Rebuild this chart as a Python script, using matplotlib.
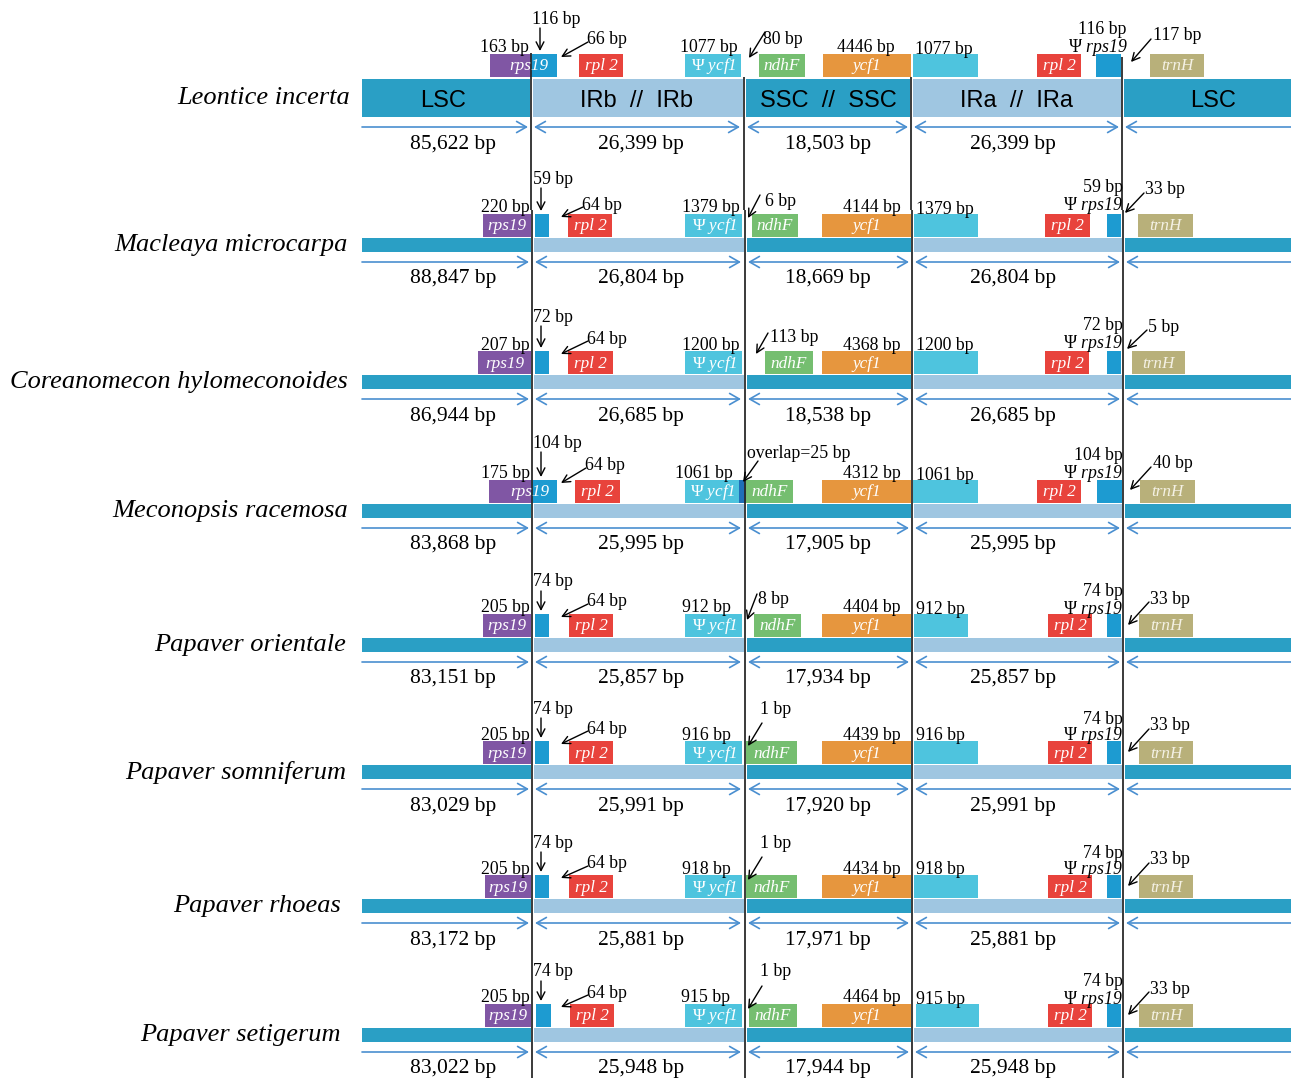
import matplotlib
matplotlib.use("Agg")
import matplotlib.pyplot as plt
from matplotlib.patches import Rectangle

plt.rcParams['font.family'] = ['Liberation Serif', 'DejaVu Serif']
plt.rcParams['mathtext.fontset'] = 'custom'
plt.rcParams['mathtext.rm'] = 'Liberation Serif'
plt.rcParams['mathtext.it'] = 'Liberation Serif:italic'
plt.rcParams['mathtext.bf'] = 'Liberation Serif:bold'

# ---------------- data ----------------
species = ["Leontice incerta", "Macleaya microcarpa", "Coreanomecon hylomeconoides",
           "Meconopsis racemosa", "Papaver orientale", "Papaver somniferum",
           "Papaver rhoeas", "Papaver setigerum"]
lsc_len = [85622, 88847, 86944, 83868, 83151, 83029, 83172, 83022]
irb_len = [26399, 26804, 26685, 25995, 25857, 25991, 25881, 25948]
ssc_len = [18503, 18669, 18538, 17905, 17934, 17920, 17971, 17944]
ira_len = [26399, 26804, 26685, 25995, 25857, 25991, 25881, 25948]

rps19_in_lsc = [163, 220, 207, 175, 205, 205, 205, 205]
rps19_in_irb = [116, 59, 72, 104, 74, 74, 74, 74]
rpl2_gap = [66, 64, 64, 64, 64, 64, 64, 64]
ycf1_pseudo = [1077, 1379, 1200, 1061, 912, 916, 918, 915]
ndhf_gap = [80, 6, 113, -25, 8, 1, 1, 1]          # negative = overlap
ycf1_in_ssc = [4446, 4144, 4368, 4312, 4404, 4439, 4434, 4464]
ycf1_in_ira = [1077, 1379, 1200, 1061, 912, 916, 918, 915]
rps19_pseudo = [116, 59, 72, 104, 74, 74, 74, 74]
trnh_gap = [117, 33, 5, 40, 33, 33, 33, 33]

# ---------------- styles ----------------
C_SC = "#2a9fc5"     # single-copy regions
C_IR = "#9fc6e1"     # inverted repeats
C_RPS = "#8056a4"
C_RPSB = "#1d9bd1"
C_RPL = "#e8433c"
C_YCF_P = "#4ec4de"
C_NDHF = "#75be70"
C_YCF = "#e6963e"
C_TRNH = "#b8b07a"
C_OVL = "#1f6fb8"
C_ARR = "#4a8fd0"
C_LINE = "#2b2b2b"

FS_SPEC = 19
FS_LEN = 15.5
FS_SMALL = 12.8
FS_GENE = 12.3

BAR_X0 = 362
BAR_X1 = 1291
GENE_H = 23

# ---------------- layout (schematic positions) ----------------
bar_top = [79, 238, 375, 504, 638, 765, 899, 1028]
bar_h = [38, 14, 14, 14, 14, 14, 14, 14]
spec_x = [350, 348, 348, 348, 346, 346, 341, 341]

base_boxes = dict(rps19L=(483, 531), rps19R=(535, 549), rpl2=(569, 613),
                  pycf1=(685, 742), ndhF=(746, 797), ycf1=(822, 911),
                  ycf1a=(914, 978), rpl2a=(1048, 1092), prps19=(1107, 1121),
                  trnH=(1139, 1193))
box_override = [
    dict(rps19L=(490, 531), rps19R=(531, 557), rpl2=(579, 623), pycf1=(685, 741),
         ndhF=(759, 805), ycf1=(823, 911), ycf1a=(913, 978), rpl2a=(1037, 1081),
         prps19=(1096, 1121), trnH=(1150, 1204)),
    dict(rpl2=(568, 612), ndhF=(752, 798), rpl2a=(1045, 1090), trnH=(1138, 1193)),
    dict(rps19L=(478, 531), rpl2=(568, 613), ndhF=(765, 813), rpl2a=(1045, 1089),
         trnH=(1132, 1185)),
    dict(rps19L=(489, 531), rps19R=(531, 557), rpl2=(575, 620), pycf1=(685, 739),
         ndhF=(746, 793), ycf1a=(913, 978), rpl2a=(1037, 1081), prps19=(1097, 1122),
         trnH=(1140, 1195)),
    dict(ndhF=(754, 801), ycf1a=(914, 968)),
    dict(),
    dict(rps19L=(485, 531)),
    dict(rps19L=(485, 531), rps19R=(536, 551), rpl2=(570, 614), ndhF=(749, 797),
         ycf1a=(916, 979)),
]
straddle = [True, False, False, True, False, False, False, False]
junctions = [(531, 744, 911, 1122)] + [(532, 745, 912, 1123)] * 7

# label offsets relative to the gene-box top
irb_lab_dy = [-37, -37, -36, -39, -34, -34, -34, -34]
rpl2_lab = [(587, -16), (582, -11), (587, -14), (585, -16),
            (587, -14), (587, -14), (587, -13), (587, -13)]
ndhf_lab = [  # label x, label dy, arrow start x, dy, arrow end x, dy
    (763, -16, 765, -22, 749, 4),
    (765, -15, 760, -19, 748, 4),
    (770, -16, 768, -18, 756, 3),
    (747, -28, 758, -19, 743, 2),
    (758, -16, 757, -20, 747, 6),
    (760, -34, 762, -18, 748, 5),
    (760, -34, 762, -18, 748, 5),
    (760, -34, 762, -18, 748, 5),
]
trnh_lab = [
    (1153, -21, 1151, -15, 1131, 8),
    (1145, -26, 1144, -21, 1125, -1),
    (1148, -26, 1147, -21, 1127, -2),
    (1153, -18, 1151, -13, 1130, 10),
    (1150, -17, 1149, -12, 1128, 11),
    (1150, -17, 1149, -12, 1128, 11),
    (1150, -17, 1149, -12, 1128, 11),
    (1150, -17, 1149, -12, 1128, 11),
]
prps_dy = [(-26, -9), (-28, -11), (-28, -10), (-26, -9),
           (-24, -7), (-24, -7), (-24, -7), (-24, -7)]
pycf_lab_x = [709, 711, 711, 704, 706, 706, 706, 706]
ycf_lab_x = [895, 901, 901, 901, 901, 901, 901, 901]
len_lab_x = (453, 641, 828, 1013)

# ---------------- drawing ----------------
fig = plt.figure(figsize=(12.91, 10.78), dpi=100)
ax = fig.add_axes([0, 0, 1, 1])
ax.set_xlim(0, 1291)
ax.set_ylim(1078, 0)
ax.axis('off')


def box(x0, x1, y, h, color, z=2):
    ax.add_patch(Rectangle((x0, y), x1 - x0, h, facecolor=color, edgecolor='none', zorder=z))


def small_arrow(x0, y0, x1, y1):
    ax.annotate('', xy=(x1, y1), xytext=(x0, y0),
                arrowprops=dict(arrowstyle='->, head_length=0.55, head_width=0.28',
                                color='black', lw=1.0, shrinkA=0, shrinkB=0), zorder=5)


def txt(x, y, s, ha='center', size=FS_SMALL, color='black', style='normal', **kw):
    ax.text(x, y + 2, s, ha=ha, va='center', fontsize=size, color=color, fontstyle=style,
            zorder=6, **kw)


def bp(v):
    return f"{v} bp"


n = len(species)
gene_top = [bar_top[i] - (25 if i == 0 else 24) for i in range(n)]

for i in range(n):
    j0, j1, j2, j3 = junctions[i]
    bt, bh, gt = bar_top[i], bar_h[i], gene_top[i]
    b = dict(base_boxes)
    b.update(box_override[i])

    # genome bar segments
    box(BAR_X0, j0 - 1, bt, bh, C_SC)
    box(j0 + 1.5, j1 - 1.5, bt, bh, C_IR)
    box(j1 + 1.5, j2 - 1.5, bt, bh, C_SC)
    box(j2 + 1.5, j3 - 1.5, bt, bh, C_IR)
    box(j3 + 1.5, BAR_X1, bt, bh, C_SC)
    if i == 0:
        cy = bt + bh / 2 + 1
        kw = dict(size=17, family=['Liberation Sans', 'DejaVu Sans'])
        txt(443, cy, "LSC", **kw)
        txt(637, cy, "IRb  //  IRb", **kw)
        txt(828, cy, "SSC  //  SSC", **kw)
        txt(1016, cy, "IRa  //  IRa", **kw)
        txt(1213, cy, "LSC", **kw)

    # species name
    txt(spec_x[i], bt + bh / 2 - 2, species[i], ha='right', size=FS_SPEC, style='italic')

    # gene boxes
    box(*b['rps19L'], gt, GENE_H, C_RPS)
    box(*b['rps19R'], gt, GENE_H, C_RPSB)
    box(*b['rpl2'], gt, GENE_H, C_RPL)
    box(*b['pycf1'], gt, GENE_H, C_YCF_P)
    if ndhf_gap[i] < 0:
        box(b['pycf1'][1], j1 + 0.5, gt, GENE_H, C_OVL)
    box(*b['ndhF'], gt, GENE_H, C_NDHF)
    box(*b['ycf1'], gt, GENE_H, C_YCF)
    box(*b['ycf1a'], gt, GENE_H, C_YCF_P)
    box(*b['rpl2a'], gt, GENE_H, C_RPL)
    box(*b['prps19'], gt, GENE_H, C_RPSB)
    box(*b['trnH'], gt, GENE_H, C_TRNH)

    gy = gt + GENE_H / 2 - 1
    gkw = dict(size=FS_GENE, color='white', style='italic')
    if straddle[i]:
        txt(j0 - 2, gy, "rps19", **gkw)
    else:
        txt(sum(b['rps19L']) / 2, gy, "rps19", **gkw)
    txt(sum(b['rpl2']) / 2, gy, "rpl 2", **gkw)
    txt(sum(b['pycf1']) / 2 + 1, gy, r"$\mathrm{\Psi}$ ycf1", **gkw)
    txt(sum(b['ndhF']) / 2, gy, "ndhF", **gkw)
    txt(sum(b['ycf1']) / 2, gy, "ycf1", **gkw)
    txt(sum(b['rpl2a']) / 2, gy, "rpl 2", **gkw)
    txt(sum(b['trnH']) / 2, gy, "trnH", color='#f4f1e4', size=FS_GENE, style='italic')

    # size labels above genes
    txt(j0 - 2, gt - 8, bp(rps19_in_lsc[i]), ha='right')
    ly = gt + irb_lab_dy[i]
    txt(j0 + 1, ly, bp(rps19_in_irb[i]), ha='left')
    small_arrow(j0 + 9, ly + 11, j0 + 9, gt - 3)
    rx, rdy = rpl2_lab[i]
    txt(rx, gt + rdy, bp(rpl2_gap[i]), ha='left')
    small_arrow(rx + 1, gt + rdy + 4, 561, gt + 3)
    txt(pycf_lab_x[i], gt - 8, bp(ycf1_pseudo[i]))
    lx, ldy, sx, sdy, ex, edy = ndhf_lab[i]
    s = bp(ndhf_gap[i]) if ndhf_gap[i] >= 0 else f"overlap={-ndhf_gap[i]} bp"
    txt(lx, gt + ldy, s, ha='left')
    small_arrow(sx, gt + sdy, ex, gt + edy)
    txt(ycf_lab_x[i], gt - 8, bp(ycf1_in_ssc[i]), ha='right')
    txt(j2 + 4, gt - 7, bp(ycf1_in_ira[i]), ha='left')
    pdy1, pdy2 = prps_dy[i]
    rxr = j3 + (4 if i == 0 else 0)
    txt(rxr, gt + pdy1, bp(rps19_pseudo[i]), ha='right')
    txt(rxr + (2 if i == 0 else 0), gt + pdy2, r"$\mathrm{\Psi}$ rps19", ha='right', style='italic')
    lx, ldy, sx, sdy, ex, edy = trnh_lab[i]
    txt(lx, gt + ldy, bp(trnh_gap[i]), ha='left')
    small_arrow(sx, gt + sdy, ex, gt + edy)

    # region length arrows and labels
    ay = bt + bh + 10
    akw = dict(color=C_ARR, lw=1.2, shrinkA=0, shrinkB=0)
    hs = ', head_length=0.7, head_width=0.4'
    ax.annotate('', xy=(j0 - 3, ay), xytext=(BAR_X0, ay),
                arrowprops=dict(arrowstyle='->' + hs, **akw))
    for a, c in ((j0 + 3, j1 - 4), (j1 + 3, j2 - 3), (j2 + 3, j3 - 3)):
        ax.annotate('', xy=(c, ay), xytext=(a, ay),
                    arrowprops=dict(arrowstyle='<->' + hs, **akw))
    ax.annotate('', xy=(BAR_X1, ay), xytext=(j3 + 3, ay),
                arrowprops=dict(arrowstyle='<-' + hs, **akw))
    ly2 = bt + bh + 25
    for x, v in zip(len_lab_x, (lsc_len[i], irb_len[i], ssc_len[i], ira_len[i])):
        txt(x, ly2, f"{v:,} bp", size=FS_LEN)

    # junction lines
    y_end = gene_top[i + 1] - 4 if i + 1 < n else 1078
    if i == 0:
        starts = (gt - 1, bt - 2, bt - 2, gt + 3)
    else:
        starts = (gt - 4,) * 4
    for x, y0 in zip((j0, j1, j2, j3), starts):
        ax.plot([x, x], [y0, y_end], color=C_LINE, lw=1.3, zorder=4, solid_capstyle='butt')

fig.savefig("out.png", dpi=100)
